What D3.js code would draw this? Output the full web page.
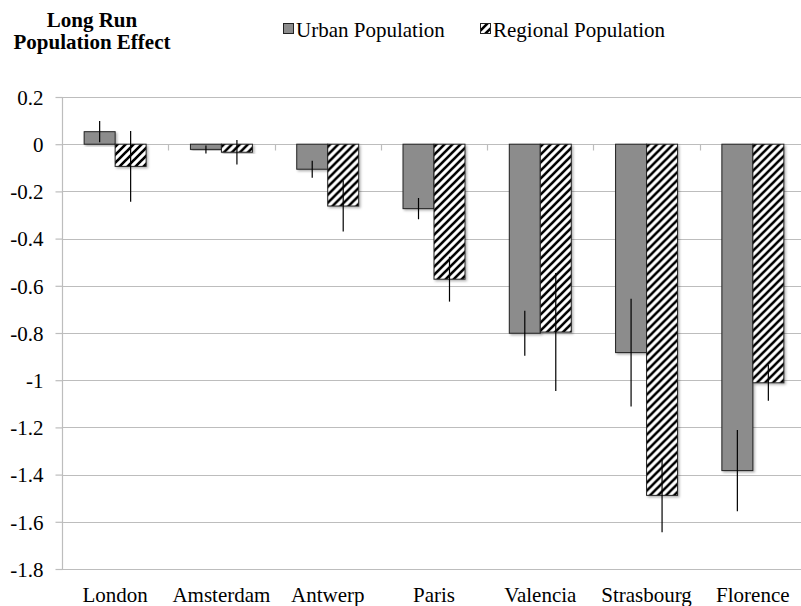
<!DOCTYPE html>
<html>
<head>
<meta charset="utf-8">
<script src="https://cdn.jsdelivr.net/npm/d3@7"></script>
<style>
  html, body { margin: 0; padding: 0; background: #fff; }
  svg { display: block; }
  text { font-family: "Liberation Serif", "Times New Roman", serif; fill: #000; }
</style>
</head>
<body>
<svg id="chart" width="801" height="606"></svg>
<script>
// Long-run population effect by city
const cities = ["London", "Amsterdam", "Antwerp", "Paris", "Valencia", "Strasbourg", "Florence"];
const seriesNames = ["Urban Population", "Regional Population"];
const urbanValues    = [0.053, -0.022, -0.106, -0.273, -0.801, -0.883, -1.383];
const urbanErrors    = [0.045, 0.017, 0.036, 0.045, 0.095, 0.228, 0.172];
const regionalValues = [-0.094, -0.034, -0.262, -0.572, -0.796, -1.488, -1.011];
const regionalErrors = [0.150, 0.052, 0.108, 0.095, 0.250, 0.156, 0.076];
const yTickValues = [0.2, 0, -0.2, -0.4, -0.6, -0.8, -1, -1.2, -1.4, -1.6, -1.8];
const yTickLabels = ["0.2", "0", "-0.2", "-0.4", "-0.6", "-0.8", "-1", "-1.2", "-1.4", "-1.6", "-1.8"];

const svg = d3.select("#chart");
const plot = { left: 62, right: 806, top: 97, bottom: 569 };

const x = d3.scaleBand().domain(cities).range([plot.left, plot.right]).padding(0);
const xSub = d3.scaleBand().domain(seriesNames).range([0, x.bandwidth()])
  .paddingInner(0).paddingOuter(0.715);
const y = d3.scaleLinear().domain([-1.8, 0.2]).range([plot.bottom, plot.top]);

const rows = cities.map((c, i) => ({
  city: c,
  vals: [
    { s: seriesNames[0], v: urbanValues[i], e: urbanErrors[i] },
    { s: seriesNames[1], v: regionalValues[i], e: regionalErrors[i] }
  ]
}));

// Patterns and bar shadow
const defs = svg.append("defs");
const pat = defs.append("pattern")
  .attr("id", "hatch").attr("patternUnits", "userSpaceOnUse")
  .attr("width", 8).attr("height", 8);
pat.append("rect").attr("width", 8).attr("height", 8).attr("fill", "#fff");
pat.append("path")
  .attr("d", "M-2,2 L2,-2 M0,8 L8,0 M6,10 L10,6")
  .attr("stroke", "#000").attr("stroke-width", 2.6);
const shadow = defs.append("filter").attr("id", "shadow")
  .attr("x", "-20%").attr("y", "-20%").attr("width", "140%").attr("height", "140%");
shadow.append("feDropShadow").attr("dx", 1.5).attr("dy", 1.5)
  .attr("stdDeviation", 1.2).attr("flood-color", "#000").attr("flood-opacity", 0.3);

const fills = { "Urban Population": "#8c8c8c", "Regional Population": "url(#hatch)" };

// Horizontal gridlines
svg.append("g").selectAll("line").data(yTickValues).join("line")
  .attr("x1", plot.left).attr("x2", plot.right)
  .attr("y1", d => Math.round(y(d)) + 0.5).attr("y2", d => Math.round(y(d)) + 0.5)
  .attr("stroke", "#bdbdbd").attr("stroke-width", 1.2);

// Y axis
const yAxis = d3.axisLeft(y).tickValues(yTickValues)
  .tickFormat((d, i) => yTickLabels[i]).tickSize(7).tickPadding(12);
const gy = svg.append("g").attr("transform", `translate(${plot.left + 0.5},0.5)`).call(yAxis);
gy.select(".domain").attr("stroke", "#bdbdbd").attr("stroke-width", 1.2)
  .attr("d", `M0,${plot.top - 0.5}V${plot.bottom}`);
gy.selectAll(".tick line").attr("stroke", "#bdbdbd").attr("stroke-width", 1.2)
  .attr("transform", "translate(0,-0.5)");
gy.selectAll(".tick text").attr("font-size", 21)
  .attr("font-family", "'Liberation Serif', 'Times New Roman', serif").attr("fill", "#000");

// Category axis on the zero line with ticks between groups
const zeroY = Math.round(y(0)) + 0.5;
svg.append("g").selectAll("line").data(cities.slice(1)).join("line")
  .attr("x1", d => Math.round(x(d)) + 0.5).attr("x2", d => Math.round(x(d)) + 0.5)
  .attr("y1", zeroY).attr("y2", zeroY + 6)
  .attr("stroke", "#bdbdbd").attr("stroke-width", 1.2);

// Bars
const groups = svg.append("g").selectAll("g").data(rows).join("g")
  .attr("transform", d => `translate(${x(d.city)},0)`);
groups.selectAll("rect").data(d => d.vals).join("rect")
  .attr("x", d => xSub(d.s))
  .attr("width", xSub.bandwidth())
  .attr("y", d => Math.min(y(d.v), y(0)))
  .attr("height", d => Math.abs(y(d.v) - y(0)))
  .attr("fill", d => fills[d.s])
  .attr("stroke", "#222").attr("stroke-width", 1)
  .attr("filter", "url(#shadow)");

// Error bars
groups.selectAll("line.err").data(d => d.vals).join("line")
  .attr("class", "err")
  .attr("x1", d => xSub(d.s) + xSub.bandwidth() / 2)
  .attr("x2", d => xSub(d.s) + xSub.bandwidth() / 2)
  .attr("y1", d => y(d.v + d.e)).attr("y2", d => y(d.v - d.e))
  .attr("stroke", "#000").attr("stroke-width", 1.2);

// Category labels
svg.append("g").selectAll("text").data(cities).join("text")
  .attr("x", d => x(d) + x.bandwidth() / 2).attr("y", 602)
  .attr("text-anchor", "middle").attr("font-size", 21)
  .text(d => d);

// Title
const title = svg.append("text").attr("x", 92).attr("text-anchor", "middle")
  .attr("font-size", 21).attr("font-weight", "bold");
title.append("tspan").attr("x", 92).attr("y", 27).text("Long Run");
title.append("tspan").attr("x", 92).attr("y", 49).text("Population Effect");

// Legend
const legendX = [283, 480];
const legend = svg.append("g").selectAll("g").data(seriesNames).join("g")
  .attr("transform", (d, i) => `translate(${legendX[i]},23)`);
legend.append("rect").attr("x", 0.5).attr("y", 0.5).attr("width", 10).attr("height", 10)
  .attr("fill", d => fills[d]).attr("stroke", "#222").attr("stroke-width", 1);
legend.append("text").attr("x", 13).attr("y", 14).attr("font-size", 21).text(d => d);
</script>
</body>
</html>
